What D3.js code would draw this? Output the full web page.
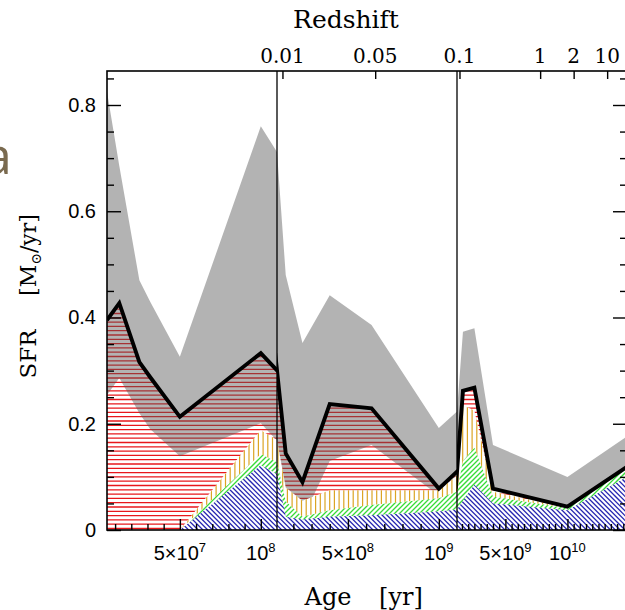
<!DOCTYPE html>
<html>
<head>
<meta charset="utf-8">
<script src="https://cdn.jsdelivr.net/npm/d3@7"></script>
<style>
  body { margin: 0; background: #fff; }
  svg { display: block; }
</style>
</head>
<body>
<svg id="chart" width="625" height="610"></svg>
<script>
// Star-formation history: SFR per age bin (yr), total and per component
const ages      = [5e6, 1.26e7, 2.5e7, 3.16e7, 5e7, 1e8, 1.58e8, 2.5e8, 4e8, 6.3e8, 1e9, 1.58e9, 2.5e9, 4e9, 1e10, 1.48e10];
const sfrTotal  = [0.395, 0.427, 0.316, 0.288, 0.213, 0.333, 0.144, 0.090, 0.237, 0.229, 0.078, 0.262, 0.268, 0.078, 0.044, 0.119];
const sfrMax    = [0.825, 0.685, 0.470, 0.430, 0.326, 0.760, 0.480, 0.352, 0.442, 0.386, 0.192, 0.373, 0.380, 0.160, 0.100, 0.176];
const sfrMin    = [0.254, 0.286, 0.220, 0.190, 0.139, 0.201, 0.010, 0.020, 0.130, 0.160, 0.065, 0.262, 0.268, 0.078, 0.044, 0.119];
const sfrOrange = [0, 0, 0, 0, 0, 0.188, 0.080, 0.055, 0.075, 0.075, 0.075, 0.235, 0.225, 0.072, 0.042, 0.118];
const sfrGreen  = [0, 0, 0, 0, 0, 0.143, 0.054, 0.025, 0.037, 0.047, 0.060, 0.130, 0.155, 0.063, 0.041, 0.117];
const sfrBlue   = [0, 0, 0, 0, 0, 0.122, 0.025, 0.020, 0.025, 0.028, 0.035, 0.055, 0.085, 0.050, 0.037, 0.100];

// Broken age axis: three linear panels
const panelEdges = [5e6, 1.1e8, 1.1e9, 1.48e10];
const minorSteps = [1e7, 1e8, 5e8];
const xMajorTicks = [5e7, 1e8, 5e8, 1e9, 5e9, 1e10];
const xMajorLabels = [["5×10", "7"], ["10", "8"], ["5×10", "8"], ["10", "9"], ["5×10", "9"], ["10", "10"]];

// Redshift scale on top (lookback age of each redshift)
const redshiftLabels = ["0.01", "0.05", "0.1", "1", "2", "10"];
const redshiftAges   = [1.4e8, 6.5e8, 1.3e9, 7.8e9, 10.5e9, 13.2e9];

const yMajorTicks = [0, 0.2, 0.4, 0.6, 0.8];
const yMinorTicks = [0.05, 0.1, 0.15, 0.25, 0.3, 0.35, 0.45, 0.5, 0.55, 0.65, 0.7, 0.75, 0.85];

const frame = { left: 107, right: 627, top: 71, bottom: 530 };
const panelPx = [107, 277, 457, 627];
const serif = "'DejaVu Serif', serif";
const sans = "'Liberation Sans', Arial, sans-serif";

const svg = d3.select("#chart");
const defs = svg.append("defs");

const y = d3.scaleLinear().domain([0, 0.864]).range([frame.bottom, frame.top]);

const rows = ages.map((a, i) => ({
  age: a, total: sfrTotal[i], max: sfrMax[i], min: sfrMin[i],
  orange: sfrOrange[i], green: sfrGreen[i], blue: sfrBlue[i]
}));

const panels = d3.range(3).map(i => ({
  i,
  x: d3.scaleLinear().domain([panelEdges[i], panelEdges[i + 1]]).range([panelPx[i], panelPx[i + 1]]),
  x0: panelPx[i], x1: panelPx[i + 1]
}));

// fill an area with white and hatch it with lines of one direction
function hatch(g, id, d, color, kind, step, width, x0, x1) {
  defs.append("clipPath").attr("id", id).append("path").attr("d", d);
  g.append("path").attr("d", d).attr("fill", "#fff");
  const lg = g.append("g").attr("clip-path", `url(#${id})`)
    .attr("stroke", color).attr("stroke-width", width);
  const top = frame.top, bot = frame.bottom, h = bot - top;
  const segs = [];
  if (kind === "h") {
    for (let yy = bot - 1.5; yy >= top; yy -= step) segs.push([x0, yy, x1, yy]);
  } else if (kind === "v") {
    for (let xx = x0 + 1; xx <= x1; xx += step) segs.push([xx, top, xx, bot]);
  } else if (kind === "/") {
    for (let c = x0 - h; c <= x1; c += step) segs.push([c, bot, c + h, top]);
  } else {
    for (let c = x0 - h; c <= x1; c += step) segs.push([c, top, c + h, bot]);
  }
  lg.selectAll("line").data(segs).join("line")
    .attr("x1", s => s[0]).attr("y1", s => s[1])
    .attr("x2", s => s[2]).attr("y2", s => s[3]);
}

panels.forEach(p => {
  const clipId = `panel-${p.i}`;
  defs.append("clipPath").attr("id", clipId)
    .append("rect").attr("x", p.x0).attr("y", frame.top)
    .attr("width", p.x1 - p.x0).attr("height", frame.bottom - frame.top);
  const g = svg.append("g").attr("clip-path", `url(#${clipId})`);

  const areaOf = key => d3.area().x(d => p.x(d.age)).y0(y(0)).y1(d => y(d[key]))(rows);

  // total SFR: red horizontal hatching
  hatch(g, `red-${p.i}`, areaOf("total"), "#e8171b", "h", 4.3, 1.3, p.x0, p.x1);

  // uncertainty band
  g.append("path")
    .attr("d", d3.area().x(d => p.x(d.age)).y0(d => y(d.min)).y1(d => y(d.max))(rows))
    .attr("fill", "#555").attr("fill-opacity", 0.447);

  // components
  hatch(g, `orange-${p.i}`, areaOf("orange"), "#dba423", "v", 4.7, 1.2, p.x0, p.x1);
  hatch(g, `green-${p.i}`, areaOf("green"), "#38dc38", "/", 5, 1.3, p.x0, p.x1);
  hatch(g, `blue-${p.i}`, areaOf("blue"), "#2626b0", "\\", 4.8, 1.3, p.x0, p.x1);

  // total SFR curve
  g.append("path")
    .attr("d", d3.line().x(d => p.x(d.age)).y(d => y(d.total))(rows))
    .attr("fill", "none").attr("stroke", "#000").attr("stroke-width", 3.9)
    .attr("stroke-linejoin", "miter");

  // bottom ticks
  const inPanel = v => v > p.x.domain()[0] && v < p.x.domain()[1];
  const majors = xMajorTicks.filter(inPanel);
  const step = minorSteps[p.i];
  const minors = d3.range(Math.ceil(panelEdges[p.i] / step) * step, panelEdges[p.i + 1], step)
    .filter(v => inPanel(v) && !majors.some(m => Math.abs(m - v) < step / 10));
  svg.append("g").attr("transform", `translate(0,${frame.bottom})`)
    .call(d3.axisBottom(p.x).tickValues(majors).tickSize(-11).tickFormat(""))
    .call(a => a.select(".domain").remove());
  svg.append("g").attr("transform", `translate(0,${frame.bottom})`)
    .call(d3.axisBottom(p.x).tickValues(minors).tickSize(-6).tickFormat(""))
    .call(a => a.select(".domain").remove());

  // redshift ticks on top
  const zt = redshiftAges.filter(inPanel);
  svg.append("g").attr("transform", `translate(0,${frame.top})`)
    .call(d3.axisTop(p.x).tickValues(zt).tickSize(-8).tickFormat(""))
    .call(a => a.select(".domain").remove());
  redshiftAges.forEach((a, k) => {
    if (!inPanel(a)) return;
    svg.append("text").attr("x", p.x(a)).attr("y", 63)
      .attr("text-anchor", "middle").attr("font-family", serif).attr("font-size", 20)
      .text(redshiftLabels[k]);
  });

  // bottom tick labels
  xMajorTicks.forEach((a, k) => {
    if (!inPanel(a)) return;
    const t = svg.append("text").attr("x", p.x(a)).attr("y", 560)
      .attr("text-anchor", "middle").attr("font-family", sans).attr("font-size", 20);
    t.append("tspan").text(xMajorLabels[k][0]);
    t.append("tspan").attr("font-size", 13).attr("dy", -8).text(xMajorLabels[k][1]);
  });
});

// panel separators
svg.append("g").selectAll("line").data(panelEdges.slice(1, 3)).join("line")
  .attr("x1", (d, i) => panels[i + 1].x(d)).attr("x2", (d, i) => panels[i + 1].x(d))
  .attr("y1", frame.top).attr("y2", frame.bottom)
  .attr("stroke", "#000").attr("stroke-width", 1.3);

// y axes (left with labels, right ticks only)
svg.append("g").attr("transform", `translate(${frame.left},0)`)
  .call(d3.axisLeft(y).tickValues(yMajorTicks).tickSize(-14).tickPadding(11)
    .tickFormat(d => d === 0 ? "0" : d3.format(".1f")(d)))
  .call(a => a.select(".domain").remove())
  .call(a => a.selectAll("text").attr("font-size", 20)
    .attr("font-family", sans).attr("fill", "#000"));
svg.append("g").attr("transform", `translate(${frame.left},0)`)
  .call(d3.axisLeft(y).tickValues(yMinorTicks).tickSize(-7).tickFormat(""))
  .call(a => a.select(".domain").remove());
svg.append("g").attr("transform", `translate(${frame.right},0)`)
  .call(d3.axisRight(y).tickValues(yMajorTicks).tickSize(-14).tickFormat(""))
  .call(a => a.select(".domain").remove());
svg.append("g").attr("transform", `translate(${frame.right},0)`)
  .call(d3.axisRight(y).tickValues(yMinorTicks).tickSize(-7).tickFormat(""))
  .call(a => a.select(".domain").remove());

svg.selectAll(".tick line").attr("stroke", "#000").attr("stroke-width", 1.4);

// frame
svg.append("rect")
  .attr("x", frame.left).attr("y", frame.top)
  .attr("width", frame.right - frame.left).attr("height", frame.bottom - frame.top)
  .attr("fill", "none").attr("stroke", "#000").attr("stroke-width", 1.6);

// axis titles
svg.append("text").attr("x", 346).attr("y", 28).attr("text-anchor", "middle")
  .attr("font-family", serif).attr("font-size", 25).text("Redshift");
svg.append("text").attr("x", 328).attr("y", 605).attr("text-anchor", "middle")
  .attr("font-family", serif).attr("font-size", 24).text("Age");
svg.append("text").attr("x", 401).attr("y", 605).attr("text-anchor", "middle")
  .attr("font-family", serif).attr("font-size", 24).text("[yr]");
svg.append("text").attr("transform", "translate(36,354) rotate(-90)")
  .attr("text-anchor", "middle").attr("font-family", serif).attr("font-size", 23).text("SFR");
const yt = svg.append("text").attr("transform", "translate(36,255) rotate(-90)")
  .attr("text-anchor", "middle").attr("font-family", serif).attr("font-size", 22);
yt.append("tspan").text("[M");
yt.append("tspan").attr("font-size", 14).attr("dy", 5).text("⊙");
yt.append("tspan").attr("dy", -5).text("/yr]");

// fragment of a neighbouring heading
svg.append("text").attr("x", 12).attr("y", 174).attr("text-anchor", "end")
  .attr("font-family", "'Open Sans', sans-serif").attr("font-size", 52)
  .attr("fill", "#7a6a4f").text("a");
</script>
</body>
</html>
